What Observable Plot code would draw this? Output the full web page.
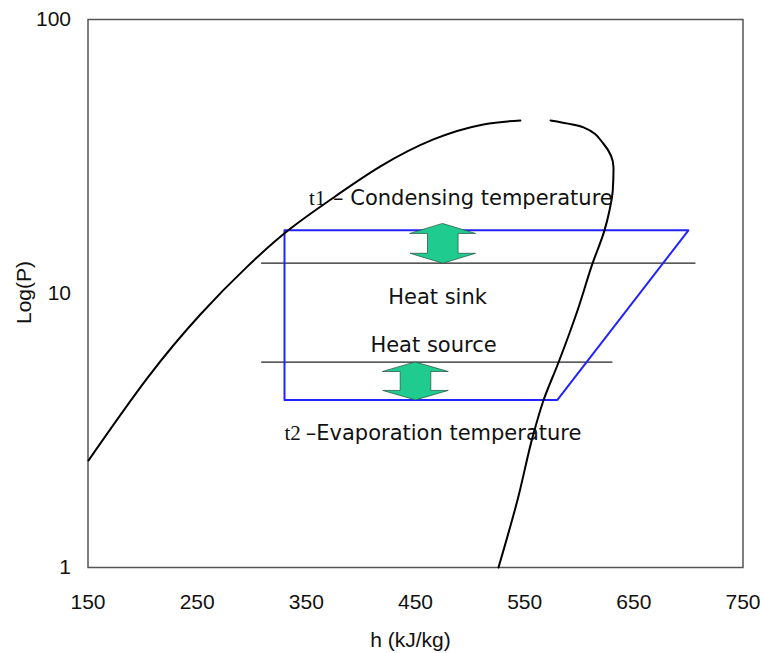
<!DOCTYPE html>
<html>
<head>
<meta charset="utf-8">
<script src="https://cdn.jsdelivr.net/npm/d3@7"></script>
<script src="https://cdn.jsdelivr.net/npm/@observablehq/plot@0.6"></script>
<style>
  html, body { margin: 0; padding: 0; background: #fff; }
  svg { display: block; }
</style>
</head>
<body>
<div id="chart"></div>
<script>
// ---- data ----
const xTicks = [150, 250, 350, 450, 550, 650, 750];
const yTicks = [1, 10, 100];

// saturated liquid branch (h kJ/kg, P)
const liquidH = [150.5, 204.5, 253.1, 296.1, 335.5, 376.7, 417.9, 466.4, 512.2, 546.1];
const liquidP = [2.46, 4.92, 8.40, 12.56, 17.26, 22.65, 29.1, 36.5, 41.4, 42.8];

// saturated vapour branch
const vaporH = [573.7, 603.9, 622.2, 631.4, 630.7, 627.7, 623.1, 612.1, 598.4, 581.0, 567.2, 558.1, 543.4, 526.0];
const vaporP = [42.8, 40.4, 35.2, 28.8, 23.8, 20.1, 17.0, 12.85, 8.67, 5.60, 4.07, 3.08, 1.76, 1.0];

// heat pump cycle
const cycleH = [330, 700, 580, 330, 330];
const cycleP = [17.0, 17.0, 4.09, 4.09, 17.0];

// heat sink / heat source temperature lines
const sinkH = [309, 706];
const sinkP = [12.9, 12.9];
const sourceH = [309, 630];
const sourceP = [5.62, 5.62];

// double arrows: centre h, top P, bottom P
const arrowH = [475, 450];
const arrowTop = [18.0, 5.62];
const arrowBottom = [12.9, 4.09];

// annotations
const sansText = ["– Condensing temperature", "Heat sink", "Heat source", "–Evaporation temperature"];
const sansH = [374.5, 470.2, 466.5, 349.5];
const sansP = [22.2, 9.67, 6.46, 3.08];
const sansAnchor = ["start", "middle", "middle", "start"];
const serifText = ["t1", "t2"];
const serifH = [352.5, 330.0];
const serifP = [22.2, 3.08];

// ---- build tables ----
const zip = (xs, ys) => xs.map((x, i) => ({h: x, p: ys[i]}));
const liquid = zip(liquidH, liquidP);
const vapor = zip(vaporH, vaporP);
const cycle = zip(cycleH, cycleP);
const sink = zip(sinkH, sinkP);
const source = zip(sourceH, sourceP);

const headHalf = 30, shaftHalf = 14, headFrac = 0.25;
const arrowPts = [];
arrowH.forEach((h, i) => {
  const lt = Math.log10(arrowTop[i]), lb = Math.log10(arrowBottom[i]);
  const hd = (lt - lb) * headFrac;
  const a = 10 ** (lt - hd), b = 10 ** (lb + hd);
  const pts = [
    [h, arrowTop[i]], [h + headHalf, a], [h + shaftHalf, a], [h + shaftHalf, b], [h + headHalf, b],
    [h, arrowBottom[i]], [h - headHalf, b], [h - shaftHalf, b], [h - shaftHalf, a], [h - headHalf, a]
  ];
  pts.forEach(([x, y]) => arrowPts.push({id: i, h: x, p: y}));
});

const sansLabels = sansText.map((t, i) => ({t, h: sansH[i], p: sansP[i], a: sansAnchor[i]}));
const serifLabels = serifText.map((t, i) => ({t, h: serifH[i], p: serifP[i]}));

const chart = Plot.plot({
  width: 763,
  height: 653,
  marginLeft: 87.5,
  marginRight: 20.5,
  marginTop: 19,
  marginBottom: 86,
  style: {fontFamily: "'Liberation Sans', Arial, sans-serif", fontSize: "21px", background: "#fff", color: "#111"},
  x: {domain: [150, 750], ticks: xTicks, tickSize: 0, tickPadding: 27, tickFormat: d => String(d), label: null},
  y: {type: "log", domain: [1, 100], ticks: yTicks, tickSize: 0, tickPadding: 17, tickFormat: d => String(d), label: null},
  marks: [
    Plot.frame({stroke: "#555", strokeWidth: 1.5}),
    Plot.line(sink, {x: "h", y: "p", stroke: "#222", strokeWidth: 1.2}),
    Plot.line(source, {x: "h", y: "p", stroke: "#222", strokeWidth: 1.2}),
    Plot.line(cycle, {x: "h", y: "p", stroke: "#2323ff", strokeWidth: 2}),
    Plot.line(liquid, {x: "h", y: "p", stroke: "#000", strokeWidth: 2, curve: "natural"}),
    Plot.line(vapor, {x: "h", y: "p", stroke: "#000", strokeWidth: 2, curve: "monotone-y"}),
    Plot.line(arrowPts, {x: "h", y: "p", z: "id", fill: "#1fcb8e", stroke: "#2f5e4c", strokeWidth: 0.8, curve: "linear-closed"}),
    Plot.text(sansLabels.filter(d => d.a === "start"), {x: "h", y: "p", text: "t", textAnchor: "start", fontFamily: "'DejaVu Sans', sans-serif", fontSize: 21, fill: "#111"}),
    Plot.text(sansLabels.filter(d => d.a === "middle"), {x: "h", y: "p", text: "t", textAnchor: "middle", fontFamily: "'DejaVu Sans', sans-serif", fontSize: 21, fill: "#111"}),
    Plot.text(serifLabels, {x: "h", y: "p", text: "t", textAnchor: "start", fontFamily: "'Liberation Serif', 'DejaVu Serif', serif", fontSize: 21, fill: "#111"}),
    Plot.text(["h (kJ/kg)"], {frameAnchor: "bottom", text: d => d, textAnchor: "middle", lineAnchor: "middle", dy: 73, dx: -5, fontSize: 21, fill: "#111"}),
    Plot.text(["Log(P)"], {frameAnchor: "left", text: d => d, textAnchor: "middle", lineAnchor: "middle", rotate: -90, dx: -63.5, dy: -1, fontSize: 21, fill: "#111"})
  ]
});
document.getElementById("chart").appendChild(chart);
</script>
</body>
</html>
